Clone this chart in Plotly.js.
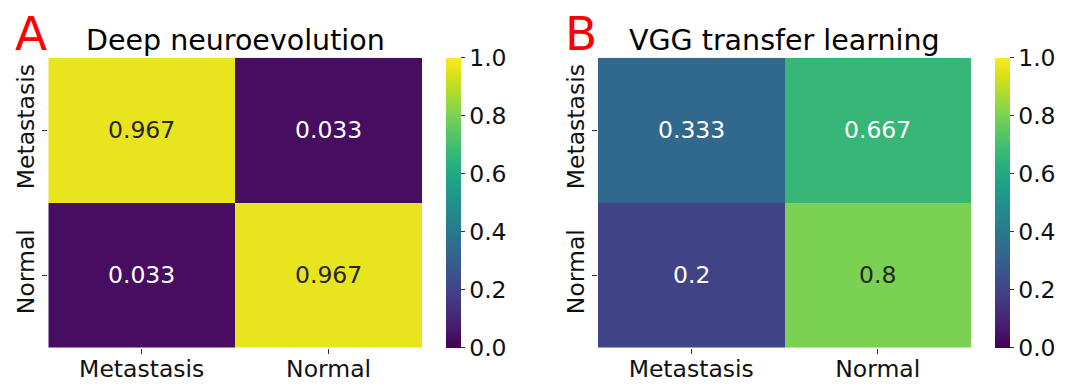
<!DOCTYPE html>
<html>
<head>
<meta charset="utf-8">
<script src="https://cdn.plot.ly/plotly-3.0.1.min.js"></script>
<style>html,body{margin:0;padding:0;background:#fff;}#chart{width:1081px;height:389px;}</style>
</head>
<body>
<div id="chart"></div>
<script>
const classLabels = ['Metastasis', 'Normal'];
const titleA = 'Deep neuroevolution';
const titleB = 'VGG transfer learning';
const zA = [[0.967, 0.033], [0.033, 0.967]];
const zB = [[0.333, 0.667], [0.2, 0.8]];
const cbTicks = [0, 0.2, 0.4, 0.6, 0.8, 1.0];

const FONT = 'DejaVu Sans, Verdana, sans-serif';
const W = 1081, H = 389;
const px = v => v / W;
const py = v => 1 - v / H;

function heat(z, xa, ya, cbX) {
  return {
    type: 'heatmap', z: z, x: classLabels, y: classLabels,
    xaxis: xa, yaxis: ya, zmin: 0, zmax: 1, colorscale: 'Viridis',
    xgap: 0, ygap: 0, hoverinfo: 'skip',
    colorbar: {
      x: px(cbX), xanchor: 'left', xref: 'paper',
      y: py(202.7), yanchor: 'middle', yref: 'paper',
      len: 290, lenmode: 'pixels', thickness: 14.5, thicknessmode: 'pixels',
      xpad: 0, ypad: 0, outlinewidth: 0,
      tickvals: cbTicks, ticktext: cbTicks.map(v => v.toFixed(1)),
      ticks: 'outside', ticklen: 4, tickwidth: 1, tickcolor: '#333',
      tickfont: {family: FONT, size: 23.5, color: '#111'}
    }
  };
}

function cellAnnots(z, xa, ya) {
  const out = [];
  z.forEach((row, i) => row.forEach((v, j) => {
    out.push({
      x: classLabels[j], y: classLabels[i], xref: xa, yref: ya,
      text: String(Number(v.toPrecision(3))), showarrow: false,
      font: {family: FONT, size: 23.5, color: v > 0.7 ? '#262626' : '#ffffff'}
    });
  }));
  return out;
}

const data = [heat(zA, 'x', 'y', 445.7), heat(zB, 'x2', 'y2', 994.5)];

function xax(d0, d1, anchor) {
  return {domain: [px(d0), px(d1)], anchor: anchor, type: 'category',
    showgrid: false, zeroline: false, showline: false,
    ticks: 'outside', ticklen: 5, tickwidth: 1, tickcolor: '#333',
    ticklabelstandoff: -5,
    tickfont: {family: FONT, size: 23.5, color: '#111'}, fixedrange: true};
}
function yax(anchor) {
  return {domain: [py(347.7), py(57.7)], anchor: anchor, type: 'category',
    autorange: 'reversed', showgrid: false, zeroline: false, showline: false,
    ticks: 'outside', ticklen: 5, tickwidth: 1, tickcolor: '#333', tickangle: -90,
    ticklabelstandoff: -1,
    tickfont: {family: FONT, size: 23.5, color: '#111'}, fixedrange: true};
}

const annotations = [
  ...cellAnnots(zA, 'x', 'y'),
  ...cellAnnots(zB, 'x2', 'y2'),
  {text: titleA, xref: 'paper', yref: 'paper', x: px(235.2), y: py(59), xanchor: 'center', yanchor: 'bottom',
   showarrow: false, font: {family: FONT, size: 28.5, color: '#000'}},
  {text: titleB, xref: 'paper', yref: 'paper', x: px(784.5), y: py(59), xanchor: 'center', yanchor: 'bottom',
   showarrow: false, font: {family: FONT, size: 28.5, color: '#000'}},
  {text: 'A', xref: 'paper', yref: 'paper', x: px(13), y: py(34), xanchor: 'left', yanchor: 'middle',
   showarrow: false, font: {family: FONT, size: 47, color: '#ff0000'}},
  {text: 'B', xref: 'paper', yref: 'paper', x: px(563), y: py(34), xanchor: 'left', yanchor: 'middle',
   showarrow: false, font: {family: FONT, size: 47, color: '#ff0000'}}
];

const layout = {
  width: W, height: H,
  margin: {l: 0, r: 0, t: 0, b: 0, pad: 0, autoexpand: false},
  paper_bgcolor: '#fff', plot_bgcolor: '#fff',
  showlegend: false,
  xaxis: xax(48.3, 422, 'y'),
  yaxis: yax('x'),
  xaxis2: xax(598, 971, 'y2'),
  yaxis2: yax('x2'),
  annotations: annotations
};

Plotly.newPlot('chart', data, layout, {displayModeBar: false, staticPlot: true});
</script>
</body>
</html>
